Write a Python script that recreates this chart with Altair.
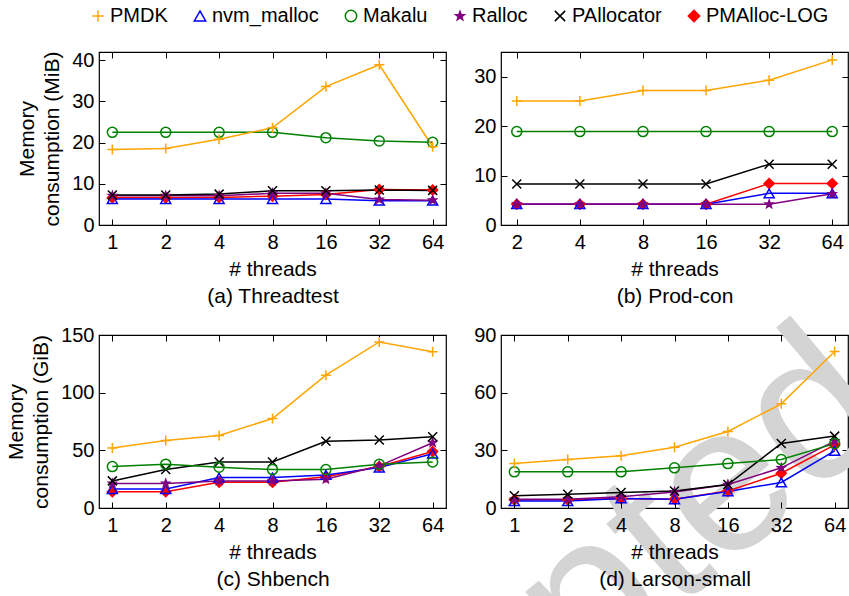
import math
import altair as alt
import pandas as pd

# ---- series definitions -------------------------------------------------
SERIES = ["PMDK", "nvm_malloc", "Makalu", "Ralloc", "PAllocator", "PMAlloc-LOG"]
LINE_COLORS = ["#FFA500", "#0000FF", "#008000", "#800080", "#000000", "#FF0000"]
MARKER_FILLS = ["transparent", "transparent", "transparent", "#800080", "transparent", "#FF0000"]
# drawing order (later ones end up on top)
DRAW_ORDER = ["PMAlloc-LOG", "nvm_malloc", "Ralloc", "PAllocator", "Makalu", "PMDK"]

THREADS_7 = ["1", "2", "4", "8", "16", "32", "64"]
THREADS_6 = ["2", "4", "8", "16", "32", "64"]

# (a) Threadtest, MiB
threadtest = {
    "PMDK":        [18.3, 18.6, 20.8, 23.6, 33.6, 38.9, 19.0],
    "nvm_malloc":  [6.3, 6.3, 6.3, 6.3, 6.3, 5.9, 5.9],
    "Makalu":      [22.5, 22.5, 22.5, 22.5, 21.2, 20.4, 20.1],
    "Ralloc":      [7.1, 7.1, 7.1, 7.7, 7.7, 6.2, 6.0],
    "PAllocator":  [7.3, 7.3, 7.5, 8.3, 8.3, 8.5, 8.4],
    "PMAlloc-LOG": [6.6, 6.6, 6.7, 7.0, 7.4, 8.6, 8.5],
}
# (b) Prod-con, MiB
prodcon = {
    "PMDK":        [25.1, 25.1, 27.2, 27.2, 29.3, 33.4],
    "nvm_malloc":  [4.2, 4.2, 4.2, 4.2, 6.4, 6.4],
    "Makalu":      [18.9, 18.9, 18.9, 18.9, 18.9, 18.9],
    "Ralloc":      [4.2, 4.2, 4.2, 4.2, 4.2, 6.3],
    "PAllocator":  [8.3, 8.3, 8.3, 8.3, 12.3, 12.3],
    "PMAlloc-LOG": [4.2, 4.2, 4.2, 4.2, 8.4, 8.4],
}
# (c) Shbench, GiB
shbench = {
    "PMDK":        [52.0, 58.6, 62.9, 77.6, 115.2, 144.0, 135.5],
    "nvm_malloc":  [16.4, 16.4, 26.4, 26.4, 28.7, 35.0, 47.0],
    "Makalu":      [35.9, 38.0, 35.3, 33.3, 33.3, 37.9, 39.9],
    "Ralloc":      [21.3, 21.3, 23.5, 23.5, 25.0, 36.5, 56.6],
    "PAllocator":  [23.5, 33.3, 39.9, 39.9, 57.8, 58.9, 61.8],
    "PMAlloc-LOG": [14.1, 14.1, 22.4, 22.4, 27.0, 35.9, 49.0],
}
# (d) Larson-small, GiB
larson = {
    "PMDK":        [23.1, 25.2, 27.2, 31.6, 39.8, 54.2, 81.4],
    "nvm_malloc":  [3.6, 3.6, 5.0, 4.5, 8.6, 13.3, 29.7],
    "Makalu":      [18.8, 18.8, 18.8, 20.9, 23.1, 25.2, 33.5],
    "Ralloc":      [4.5, 4.5, 5.9, 8.3, 12.2, 20.9, 34.8],
    "PAllocator":  [6.4, 7.2, 8.1, 8.8, 12.2, 33.6, 37.4],
    "PMAlloc-LOG": [4.3, 4.3, 5.0, 4.6, 8.8, 18.1, 32.8],
}

# ---- marker shapes (unit-box SVG paths) ---------------------------------
PLUS = "M-1,0L1,0M0,-1L0,1"
XMARK = "M-0.9,-0.9L0.9,0.9M-0.9,0.9L0.9,-0.9"


def star_path(outer=0.8, inner=0.33):
    pts = []
    for k in range(10):
        r = outer if k % 2 == 0 else inner
        a = -math.pi / 2 + k * math.pi / 5
        pts.append(f"{r * math.cos(a):.3f},{r * math.sin(a):.3f}")
    return "M" + "L".join(pts) + "Z"


SHAPES = [PLUS, "triangle-up", "circle", star_path(), XMARK, "diamond"]

FONT = "Liberation Sans"
TICK = 6
W, H = 347, 173

LEGEND = alt.Legend(title=None)


def panel(values, threads, ymax, yticks, caption, ytitle, extra=None):
    rows = []
    for s in DRAW_ORDER:
        for i, (t, v) in enumerate(zip(threads, values[s])):
            rows.append({"series": s, "threads": t, "idx": i, "value": v})
    df = pd.DataFrame(rows)

    xs = alt.Scale(type="point", padding=0.25)
    ys = alt.Scale(domain=[0, ymax], nice=False, zero=True)

    # x-axis title carries the sub-figure caption as its second line
    bottom = alt.Axis(
        orient="bottom", title=["# threads", caption], offset=-TICK, tickSize=TICK,
        domain=False, labelAngle=0, labelFontSize=20, titleFontSize=21,
        titleLineHeight=27, labelPadding=7, titlePadding=6,
        titleFontWeight="normal", tickColor="black", labelColor="black", titleColor="black",
        labelFont=FONT, titleFont=FONT, zindex=1, grid=False,
    )
    top = alt.Axis(orient="top", title=None, labels=False, offset=-TICK, tickSize=TICK,
                   domain=False, tickColor="black", grid=False)
    left = alt.Axis(
        orient="left", values=yticks, offset=-TICK, tickSize=TICK, domain=False,
        labelFontSize=20, labelPadding=5, labelColor="black", tickColor="black",
        labelFont=FONT, title=ytitle if ytitle else None, titleFontSize=21,
        titleFontWeight="normal", titleFont=FONT, titleColor="black",
        titlePadding=9, titleLineHeight=25, zindex=1, grid=False,
    )
    right = alt.Axis(orient="right", values=yticks, labels=False, offset=-TICK,
                     tickSize=TICK, domain=False, tickColor="black", title=None, grid=False)

    stroke_scale = alt.Scale(domain=SERIES, range=LINE_COLORS)

    lines = alt.Chart(df).mark_line(strokeWidth=1.5).encode(
        x=alt.X("threads:O", sort=threads, scale=xs, axis=bottom),
        y=alt.Y("value:Q", scale=ys, axis=left),
        stroke=alt.Stroke("series:N", scale=stroke_scale, legend=LEGEND),
        order=alt.Order("idx:Q"),
    )
    points = alt.Chart(df).mark_point(size=100, strokeWidth=1.5, opacity=1).encode(
        x=alt.X("threads:O", sort=threads, scale=xs, axis=top),
        y=alt.Y("value:Q", scale=ys, axis=right),
        stroke=alt.Stroke("series:N", scale=stroke_scale, legend=LEGEND),
        fill=alt.Fill("series:N", scale=alt.Scale(domain=SERIES, range=MARKER_FILLS), legend=LEGEND),
        shape=alt.Shape("series:N", scale=alt.Scale(domain=SERIES, range=SHAPES), legend=LEGEND),
    )
    layers = ([extra] if extra is not None else []) + [lines, points]
    return alt.layer(*layers).resolve_axis(x="independent", y="independent").properties(
        width=W, height=H,
    )


# light grey stamp running across the lower right corner
stamp = alt.Chart(pd.DataFrame({"w": ["Accepted"]})).mark_text(
    fontSize=210, font=FONT, color="#d4d4d4", angle=320, align="right",
    baseline="alphabetic",
).encode(text="w:N", x=alt.value(398), y=alt.value(88))

pa = panel(threadtest, THREADS_7, 42, [0, 10, 20, 30, 40], "(a) Threadtest",
           ["Memory", "consumption (MiB)"])
pb = panel(prodcon, THREADS_6, 35, [0, 10, 20, 30], "(b) Prod-con", None)
pc = panel(shbench, THREADS_7, 150, [0, 50, 100, 150], "(c) Shbench",
           ["Memory", "consumption (GiB)"])
pd_ = panel(larson, THREADS_7, 90, [0, 30, 60, 90], "(d) Larson-small", None, extra=stamp)

# fixed canvas: the first panel's plot area starts at (99, 52)
chart = alt.concat(
    pa, pb, pc, pd_, columns=2, spacing={"row": 110, "column": 55}, bounds="flush",
).properties(
    autosize=alt.AutoSizeParams(type="none"),
    padding={"left": 99, "top": 52, "right": 750, "bottom": 544},
).configure(font=FONT).configure_axis(grid=False).configure_view(
    stroke="black", strokeWidth=1.2
).configure_legend(
    orient="none", legendX=-11, legendY=-46, direction="horizontal",
    labelFontSize=20, labelFont=FONT, labelColor="black", labelLimit=300,
    symbolSize=130, symbolStrokeWidth=1.5, columnPadding=22, labelOffset=2,
)

chart.save("out.html", embed_options={"renderer": "svg", "actions": False})
